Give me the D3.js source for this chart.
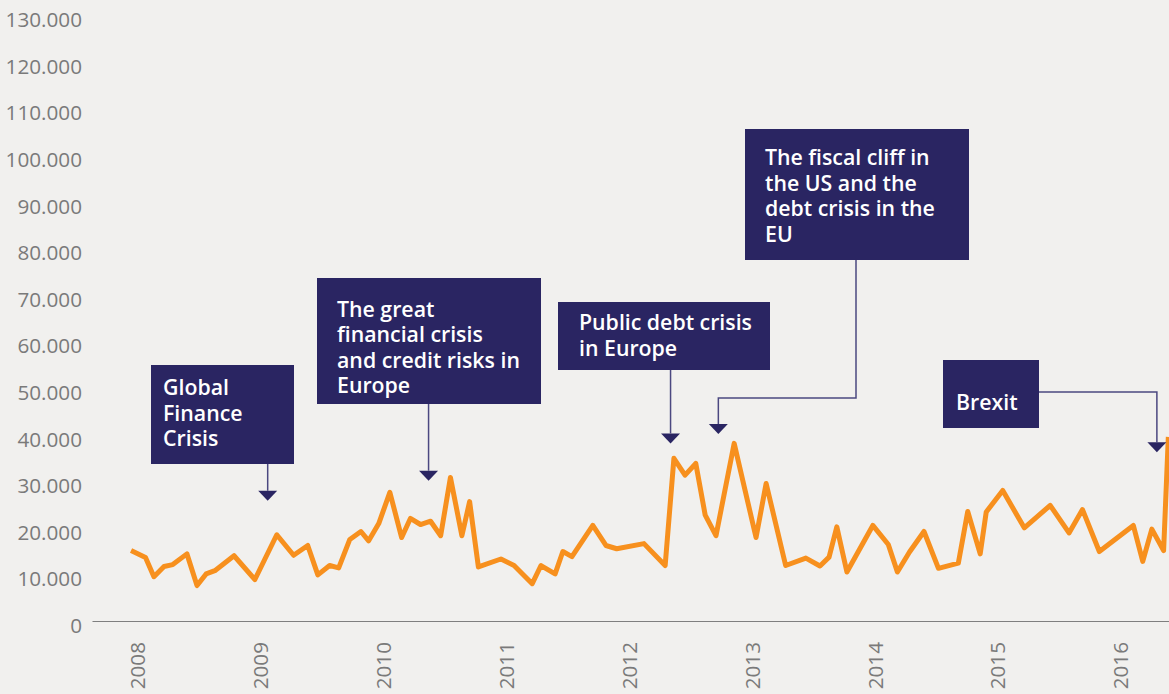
<!DOCTYPE html>
<html>
<head>
<meta charset="utf-8">
<script src="https://cdn.jsdelivr.net/npm/d3@7"></script>
<style>
  html, body { margin: 0; padding: 0; background: #f1f0ee; }
  svg { display: block; font-family: "Open Sans", sans-serif; }
</style>
</head>
<body>
<script>
// Series: observation dates and values
const dates = [
  "2008-01-01","2008-02-13","2008-03-09","2008-04-08","2008-05-04","2008-06-15","2008-07-15","2008-08-11",
  "2008-09-06","2008-11-02","2009-01-03","2009-03-09","2009-04-28","2009-06-09","2009-07-09","2009-08-13",
  "2009-09-09","2009-10-12","2009-11-14","2009-12-07","2010-01-06","2010-02-08","2010-03-15","2010-04-10",
  "2010-05-10","2010-06-09","2010-07-09","2010-08-07","2010-09-10","2010-10-03","2010-10-29","2011-01-04",
  "2011-02-12","2011-04-07","2011-05-03","2011-06-14","2011-07-07","2011-08-03","2011-10-04","2011-11-12",
  "2011-12-14","2012-03-04","2012-05-06","2012-06-01","2012-07-04","2012-08-05","2012-09-02","2012-10-04",
  "2012-11-27","2013-01-31","2013-03-02","2013-04-29","2013-06-28","2013-08-09","2013-09-05","2013-09-28",
  "2013-10-28","2014-01-13","2014-02-28","2014-03-27","2014-05-02","2014-06-14","2014-07-27","2014-09-24",
  "2014-10-22","2014-11-28","2014-12-16","2015-02-03","2015-04-08","2015-06-24","2015-08-19","2015-09-28",
  "2015-11-17","2016-02-26","2016-03-25","2016-04-21","2016-05-26","2016-06-09"
];
const values = [
  15100,13600,9500,11700,12100,14400,7600,10100,
  10800,14000,8900,18500,14100,16200,9900,11900,
  11400,17500,19200,17200,20900,27600,17900,22000,
  20700,21400,18300,30800,18300,25600,11600,13300,
  11900,8000,11900,10100,14900,13800,20500,16200,
  15500,16600,11900,34900,31300,33800,22700,18300,
  38100,17900,29500,11900,13500,11800,13700,20200,
  10500,20500,16400,10500,14800,19200,11300,12400,
  23500,14400,23400,28000,20000,24800,18900,23900,
  14900,20500,12800,19700,15100,39500
];

// Axis ticks
const yTicks = [0,10000,20000,30000,40000,50000,60000,70000,80000,90000,100000,110000,120000,130000];
const xTickYears = [2008,2009,2010,2011,2012,2013,2014,2015,2016];

// Event annotations: text lines, the date they point at and the level of the arrow tip
const annoText = [
  ["Global","Finance","Crisis"],
  ["The great","financial crisis","and credit risks in","Europe"],
  ["Public debt crisis","in Europe"],
  ["The fiscal cliff in","the US and the","debt crisis in the","EU"],
  ["Brexit"]
];
const annoDates = ["2009-02-10","2010-06-03","2012-05-22","2012-10-11","2016-05-06"];
const annoLevels = [25800, 30100, 38100, 40100, 36200];

const W = 1169, H = 694;
const parse = d3.timeParse("%Y-%m-%d");
const fmt = d3.formatLocale({decimal: ",", thousands: ".", grouping: [3], currency: ["", ""]}).format(",");

const svg = d3.select("body").append("svg").attr("width", W).attr("height", H);
svg.append("rect").attr("width", W).attr("height", H).attr("fill", "#f1f0ee");

const x = d3.scaleTime()
  .domain([new Date(2007, 8, 7), new Date(2016, 5, 11)])
  .range([92, 1169]);
const y = d3.scaleLinear().domain([0, 130000]).range([621, 15]);

// Y axis labels
const gy = svg.append("g").attr("transform", "translate(92,0)")
  .call(d3.axisLeft(y).tickValues(yTicks).tickSize(0).tickPadding(10).tickFormat(fmt));
gy.select(".domain").remove();
gy.selectAll("text")
  .attr("dy", "0.56em")
  .attr("fill", "#7a7a7a")
  .style("font-size", "20.7px")
  .style("font-family", "'Open Sans', sans-serif");

// X axis with rotated year labels
const gx = svg.append("g").attr("transform", "translate(0,621)")
  .call(d3.axisBottom(x)
    .tickValues(xTickYears.map(yr => new Date(yr, 0, 1)))
    .tickSize(0).tickSizeOuter(0)
    .tickFormat(d3.timeFormat("%Y")));
gx.select(".domain").attr("stroke", "#7f7f7f").attr("stroke-width", 1.2);
gx.selectAll(".tick line").remove();
gx.selectAll("text")
  .attr("transform", "rotate(-90)")
  .attr("text-anchor", "end")
  .attr("x", -21)
  .attr("y", 6)
  .attr("dy", "0.35em")
  .attr("fill", "#7a7a7a")
  .style("font-size", "20.7px")
  .style("font-family", "'Open Sans', sans-serif");

// Series line
const series = dates.map((d, i) => ({date: parse(d), value: values[i]}));
svg.append("path")
  .datum(series)
  .attr("fill", "none")
  .attr("stroke", "#f7901e")
  .attr("stroke-width", 5)
  .attr("stroke-linejoin", "round")
  .attr("d", d3.line().x(d => x(d.date)).y(d => y(d.value)));

// Annotation boxes and connectors
const navy = "#2a2562";
const boxes = [
  {x: 151, y: 365, w: 143, h: 99,  pad: 12, first: 30},
  {x: 317, y: 278, w: 224, h: 126, pad: 20, first: 38.5},
  {x: 558, y: 302, w: 212, h: 68,  pad: 21, first: 28},
  {x: 745, y: 129, w: 224, h: 131, pad: 20, first: 36},
  {x: 943, y: 360, w: 96,  h: 68,  pad: 13, first: 50}
];
const lineGap = 25.6;

annoText.forEach((lines, i) => {
  const b = boxes[i];
  const tx = x(parse(annoDates[i]));
  const ty = y(annoLevels[i]);
  const baseY = ty - 10;
  let pts;
  if (i === 3) {
    const sx = 856, elbow = 398;
    pts = [[sx, b.y + b.h], [sx, elbow], [tx, elbow], [tx, baseY]];
  } else if (i === 4) {
    const sy = 392;
    pts = [[b.x + b.w, sy], [tx, sy], [tx, baseY]];
  } else {
    pts = [[tx, b.y + b.h], [tx, baseY]];
  }
  svg.append("path")
    .attr("d", d3.line()(pts))
    .attr("fill", "none")
    .attr("stroke", "#4b4880")
    .attr("stroke-width", 1.5);
  svg.append("path")
    .attr("d", `M${tx - 9.5},${baseY}L${tx + 9.5},${baseY}L${tx},${ty}Z`)
    .attr("fill", navy);

  svg.append("rect")
    .attr("x", b.x).attr("y", b.y).attr("width", b.w).attr("height", b.h)
    .attr("fill", navy);
  const t = svg.append("text")
    .attr("fill", "#ffffff")
    .style("font-size", "21.3px")
    .style("font-weight", 600)
    .style("font-family", "'Open Sans', sans-serif");
  lines.forEach((ln, k) => {
    t.append("tspan").attr("x", b.x + b.pad).attr("y", b.y + b.first + k * lineGap).text(ln);
  });
});
</script>
</body>
</html>
